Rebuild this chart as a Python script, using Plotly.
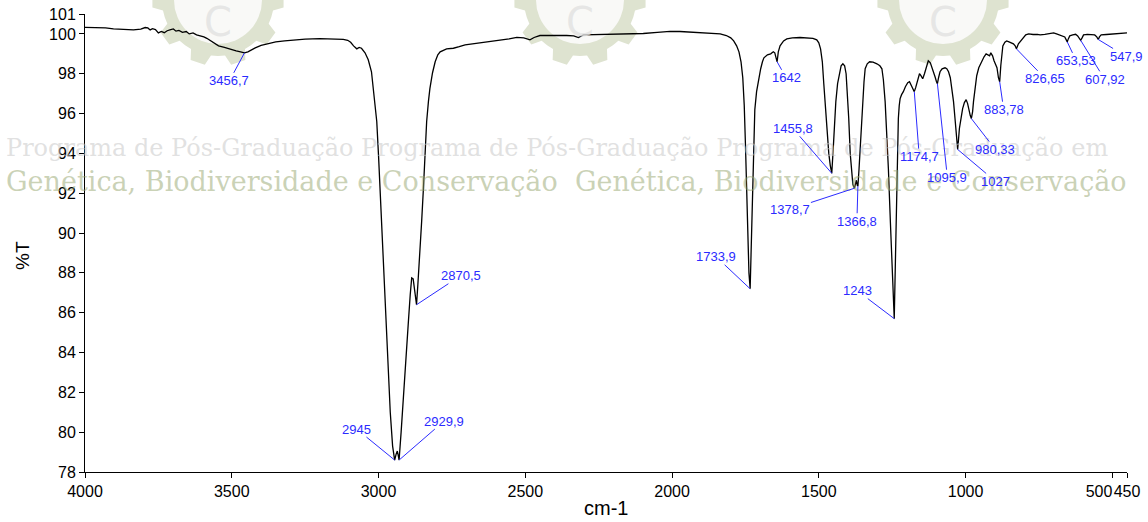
import numpy as np
import plotly.graph_objects as go

# ---------------- spectrum (wavenumber cm-1, %T) ----------------
wavenumber = [
    4000, 3960, 3930, 3903, 3870, 3835, 3810, 3795, 3786, 3778, 3770, 3760, 3750, 3740,
    3730, 3720, 3708, 3699, 3690, 3680, 3668, 3655, 3645, 3632, 3620, 3608, 3595, 3585,
    3574, 3560, 3545, 3525, 3505, 3485, 3470, 3456.7, 3445, 3432, 3420, 3400, 3381, 3350,
    3320, 3290, 3250, 3200, 3154, 3120, 3105, 3095, 3085, 3074, 3066, 3058, 3046, 3035,
    3024, 3018, 3012, 3006, 3000, 2995, 2989, 2984, 2975, 2968, 2960, 2952, 2945, 2940,
    2936, 2933, 2929.9, 2923, 2914, 2905, 2898, 2892, 2887, 2882, 2877, 2870.5, 2866, 2859,
    2853, 2847, 2841, 2836, 2830, 2825, 2816, 2807, 2798, 2790, 2768, 2745, 2725, 2705,
    2680, 2654, 2620, 2586, 2555, 2529, 2505, 2484, 2470, 2450, 2400, 2359, 2335, 2319,
    2302, 2250, 2188, 2140, 2098, 2050, 2007, 1973, 1930, 1880, 1836, 1815, 1800, 1790,
    1780, 1772, 1765, 1759, 1754, 1750, 1746, 1742, 1738, 1733.9, 1730, 1727, 1723, 1718,
    1712, 1704, 1698, 1692, 1687, 1675, 1664, 1655, 1650, 1642, 1638, 1632, 1620, 1609,
    1590, 1564, 1540, 1520, 1507, 1500, 1494, 1488, 1483, 1477, 1472, 1466, 1461, 1455.8,
    1451, 1447, 1442, 1436, 1430, 1424, 1418, 1412, 1407, 1403, 1398, 1393, 1388, 1384,
    1378.7, 1375, 1372, 1369, 1366.8, 1363, 1358, 1354, 1350, 1346, 1342, 1335, 1327, 1315,
    1302, 1292, 1285, 1280, 1274, 1268, 1263, 1256, 1250, 1243, 1239, 1234.5, 1231, 1229,
    1226, 1223, 1218, 1212, 1205, 1197, 1191, 1185, 1178, 1174.7, 1170, 1165, 1160, 1157,
    1152, 1146, 1140, 1133, 1127, 1120, 1115, 1110, 1104, 1099, 1095.9, 1092, 1087, 1080,
    1070, 1064, 1058, 1052, 1047, 1041, 1036, 1031, 1027, 1024, 1021, 1015, 1010, 1004,
    998, 993, 989, 984, 980.33, 976, 973, 967, 962, 955, 945, 937, 930, 924,
    918, 914, 908, 903, 898, 893, 888, 883.78, 880, 876, 873, 866, 860, 852,
    845, 837, 831, 826.65, 820, 814, 805, 795, 785, 770, 755, 746, 730, 715,
    700, 690, 680, 670, 662, 657, 653.53, 650, 645, 635, 625, 618, 613, 607.92,
    603, 598, 585, 570, 560, 553, 547.9, 544, 538, 520, 500, 480, 465, 450,
]
transmittance = [
    100.33, 100.33, 100.30, 100.25, 100.22, 100.20, 100.24, 100.32, 100.30, 100.20, 100.26, 100.22, 100.05, 100.12,
    100.06, 100.16, 100.22, 100.25, 100.14, 100.18, 100.08, 100.12, 100.00, 100.05, 99.95, 99.92, 99.85, 99.78,
    99.67, 99.52, 99.40, 99.32, 99.22, 99.15, 99.10, 99.05, 99.10, 99.22, 99.30, 99.42, 99.50, 99.60,
    99.65, 99.70, 99.74, 99.76, 99.75, 99.73, 99.68, 99.58, 99.40, 99.25, 99.32, 99.28, 99.05, 98.70,
    98.10, 97.25, 96.50, 95.60, 93.90, 92.25, 90.60, 88.90, 85.60, 83.20, 81.00, 79.30, 78.60, 78.90,
    79.05, 78.85, 78.60, 80.00, 82.20, 84.20, 85.60, 86.90, 87.75, 87.70, 87.00, 86.40, 87.40, 88.90,
    90.60, 92.25, 94.10, 95.60, 96.60, 97.25, 98.05, 98.60, 98.95, 99.10, 99.25, 99.28, 99.36, 99.45,
    99.50, 99.55, 99.62, 99.67, 99.75, 99.83, 99.80, 99.70, 99.82, 99.92, 99.93, 99.92, 99.90, 99.82,
    99.95, 99.97, 99.97, 100.00, 100.02, 100.08, 100.13, 100.12, 100.08, 100.04, 100.00, 99.92, 99.80, 99.65,
    99.40, 99.10, 98.60, 97.80, 96.40, 94.50, 91.80, 89.60, 88.00, 87.20, 89.60, 92.00, 94.40, 96.20,
    97.10, 97.80, 98.25, 98.60, 98.80, 98.95, 99.00, 99.10, 99.05, 98.60, 99.10, 99.40, 99.65, 99.75,
    99.80, 99.82, 99.80, 99.78, 99.70, 99.55, 99.25, 98.60, 97.50, 96.20, 95.00, 94.00, 93.40, 93.00,
    94.20, 95.40, 96.60, 97.50, 98.00, 98.40, 98.50, 98.40, 98.00, 97.20, 95.75, 94.00, 92.80, 92.45,
    92.25, 92.60, 92.65, 92.40, 92.35, 93.20, 94.60, 95.80, 96.60, 97.60, 98.25, 98.50, 98.60, 98.58,
    98.50, 98.40, 98.25, 97.70, 96.60, 95.00, 93.25, 90.50, 88.00, 85.70, 88.60, 92.60, 94.50, 95.75,
    96.40, 96.75, 96.95, 97.10, 97.35, 97.55, 97.60, 97.40, 97.15, 97.10, 97.30, 97.60, 97.90, 98.00,
    97.90, 97.75, 98.00, 98.40, 98.65, 98.55, 98.35, 98.10, 97.85, 97.60, 97.50, 97.80, 98.10, 98.25,
    98.30, 98.25, 98.10, 97.80, 97.25, 96.60, 95.75, 94.90, 94.20, 94.70, 95.25, 95.80, 96.25, 96.55,
    96.70, 96.50, 96.20, 95.90, 95.75, 96.10, 96.60, 97.30, 97.90, 98.30, 98.65, 98.85, 99.00, 98.95,
    98.90, 99.05, 98.90, 98.65, 98.45, 98.30, 97.80, 97.60, 98.40, 98.95, 99.40, 99.58, 99.65, 99.60,
    99.55, 99.50, 99.40, 99.25, 99.50, 99.62, 99.80, 99.95, 100.00, 99.97, 99.98, 99.95, 99.98, 100.03,
    100.05, 100.00, 99.95, 99.90, 99.85, 99.70, 99.60, 99.75, 99.90, 99.95, 99.98, 99.90, 99.80, 99.68,
    99.80, 99.95, 99.98, 99.97, 99.95, 99.85, 99.72, 99.85, 99.95, 99.97, 100.00, 100.02, 100.05, 100.05,
]

# ---------------- labelled bands ----------------
peak_wn = [3456.7, 2945, 2929.9, 2870.5, 1733.9, 1642, 1455.8, 1378.7, 1366.8, 1243,
           1174.7, 1095.9, 1027, 980.33, 883.78, 826.65, 653.53, 607.92, 547.9]
peak_labels = ["3456,7", "2945", "2929,9", "2870,5", "1733,9", "1642", "1455,8", "1378,7",
               "1366,8", "1243", "1174,7", "1095,9", "1027", "980,33", "883,78", "826,65",
               "653,53", "607,92", "547,9"]

# label placement: pixel offset of each label from its band minimum
label_dx = [-15, -38, 45, 44, -34, 9, -39, -64, -1, -37, 5, 10, 38, 24, 4, 29, 9, 24, 28]
label_dy = [28, -31, -39, -29, -32, 16, -45, 21, 35, -28, 65, 94, 32, 31, 28, 30, 19, 39, 17]

# ---------------- axes ----------------
x_ticks = [4000, 3500, 3000, 2500, 2000, 1500, 1000, 500, 450]
y_ticks = [78, 80, 82, 84, 86, 88, 90, 92, 94, 96, 98, 100, 101]
x_title = "cm-1"
y_title = "%T"

# ---------------- background watermark ----------------
wm_line1 = "Programa de Pós-Graduação Programa de Pós-Graduação Programa de Pós-Graduação em"
wm_line2 = "Genética, Biodiversidade e Conservação  Genética, Biodiversidade e Conservação"

W, H = 1148, 522
L, R, T, B = 85, 21, 14, 50
PW, PH = W - L - R, H - T - B


def px(xp):
    return (xp - L) / PW


def py(yp):
    return (H - B - yp) / PH


def gear_path(cx, cy, r_out, r_root, n):
    pitch = 2 * np.pi / n
    pts = []
    for i in range(n):
        a = i * pitch
        for frac, r in ((-0.5, r_root), (-0.30, r_root), (-0.18, r_out),
                        (0.18, r_out), (0.30, r_root)):
            ang = a + frac * pitch
            pts.append((cx + r * np.cos(ang), cy + r * np.sin(ang)))
    return "M " + " L ".join(f"{px(x):.5f},{py(y):.5f}" for x, y in pts) + " Z"


blue = "#2b2bff"
sans = "Liberation Sans, Arial"

fig = go.Figure()
fig.add_trace(go.Scatter(
    x=wavenumber, y=transmittance, mode="lines",
    line=dict(color="black", width=1.3), hoverinfo="skip", showlegend=False,
))

shapes = []
annotations = []

for gx in (218, 580, 943):
    shapes.append(dict(type="path", path=gear_path(gx, 0, 66, 56, 10),
                       xref="paper", yref="paper", layer="below",
                       fillcolor="rgb(222,227,208)", line=dict(width=0)))
    shapes.append(dict(type="circle", xref="paper", yref="paper", layer="below",
                       x0=px(gx - 44), x1=px(gx + 44), y0=py(-44), y1=py(44),
                       fillcolor="rgb(249,249,247)", line=dict(width=0)))
    annotations.append(dict(text="C", xref="paper", yref="paper", x=px(gx), y=py(22),
                            xanchor="center", yanchor="middle", showarrow=False,
                            font=dict(family="DejaVu Sans", size=40,
                                      color="rgba(225,225,225,0.8)")))

annotations.append(dict(text=wm_line1, xref="paper", yref="paper",
                        x=px(4), y=py(148), xanchor="left", yanchor="middle",
                        showarrow=False,
                        font=dict(family="DejaVu Serif", size=24,
                                  color="rgba(200,200,200,0.55)")))
annotations.append(dict(text=wm_line2, xref="paper", yref="paper",
                        x=px(4), y=py(181), xanchor="left", yanchor="middle",
                        showarrow=False,
                        font=dict(family="DejaVu Serif", size=27,
                                  color="rgba(150,165,110,0.5)")))

# band labels with leader lines
for wn, lab, dx, dy in zip(peak_wn, peak_labels, label_dx, label_dy):
    t = transmittance[wavenumber.index(wn)]
    annotations.append(dict(
        x=wn, y=t, xref="x", yref="y", text=lab, showarrow=True,
        ax=dx, ay=dy, axref="pixel", ayref="pixel",
        arrowhead=0, arrowwidth=1, arrowcolor=blue, standoff=0,
        font=dict(family=sans, size=13, color=blue),
        borderpad=0,
    ))

# axis titles
annotations.append(dict(text=x_title, xref="paper", yref="paper", x=px(606), y=py(508),
                        xanchor="center", yanchor="middle", showarrow=False,
                        font=dict(family=sans, size=20, color="black")))
annotations.append(dict(text=y_title, xref="paper", yref="paper", x=px(22), y=py(256),
                        xanchor="center", yanchor="middle", textangle=-90,
                        showarrow=False,
                        font=dict(family=sans, size=19, color="black")))

x_ticktext = [str(v) for v in x_ticks]
# the 500 label sits to the left of its tick so it clears the 450 label
x_ticktext[x_ticks.index(500)] = "500" + "\u00a0" * 6

fig.update_layout(
    width=W, height=H,
    margin=dict(l=L, r=R, t=T, b=B, autoexpand=False),
    paper_bgcolor="white", plot_bgcolor="rgba(0,0,0,0)",
    shapes=shapes, annotations=annotations,
    font=dict(family=sans, size=16, color="black"),
    showlegend=False,
)
fig.update_xaxes(
    range=[4000, 450], tickvals=x_ticks, ticktext=x_ticktext, tickangle=0,
    showline=True, linecolor="black", linewidth=1, ticks="outside", ticklen=5,
    tickcolor="black", showgrid=False, zeroline=False, mirror=False,
    tickfont=dict(size=16), ticklabelstandoff=0, automargin=False,
)
fig.update_yaxes(
    range=[78, 101], tickvals=y_ticks, ticktext=[str(v) for v in y_ticks],
    showline=True, linecolor="black", linewidth=1, ticks="outside", ticklen=5,
    tickcolor="black", showgrid=False, zeroline=False, mirror=False,
    tickfont=dict(size=16), ticklabelstandoff=0, automargin=False,
)

fig.write_html("out.html")
